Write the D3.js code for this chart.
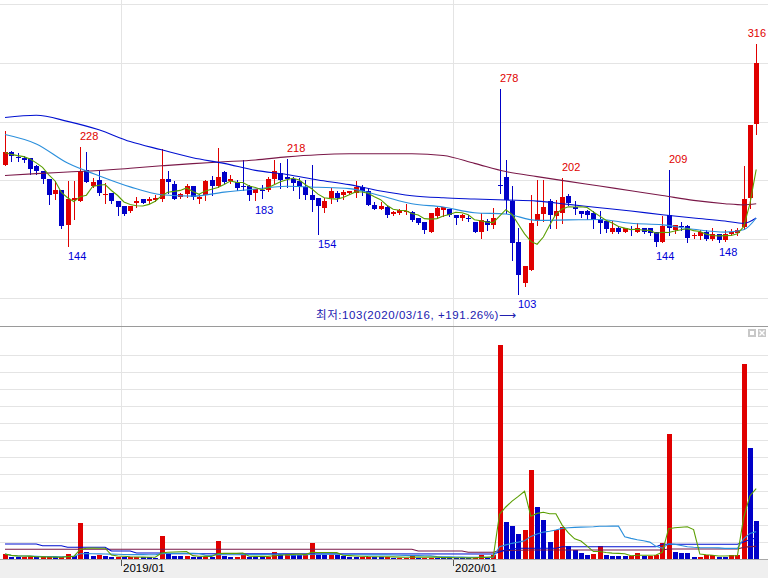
<!DOCTYPE html>
<html><head><meta charset="utf-8">
<script src="https://cdn.jsdelivr.net/npm/d3@7"></script>
<style>html,body{margin:0;padding:0;background:#fff;overflow:hidden}</style>
</head><body><svg id="c" width="768" height="578"></svg>
<script>
// ---- data (weekly candles, index 0..120) ----
const open = [213.3,224.1,219.6,219.3,219.0,211.9,208.2,201.1,188.6,191.5,
162.2,183.5,182.9,209.1,195.4,200.5,187.2,189.7,182.6,178.4,
173.6,181.2,184.3,182.1,183.0,184.0,201.4,197.1,186.3,188.3,
195.4,184.6,187.8,200.5,195.4,206.8,199.4,198.3,195.1,195.4,
189.1,192.2,192.0,201.1,206.2,203.3,201.1,199.1,194.3,187.7,
184.9,176.9,184.9,189.1,187.2,189.1,189.7,194.3,191.4,179.2,
176.1,177.8,171.3,172.1,173.5,173.5,167.8,164.7,156.5,169.8,
174.9,175.8,170.7,167.8,168.0,165.0,156.5,165.6,161.7,196.0,
202.5,182.7,148.0,113.1,123.9,165.9,171.3,182.9,169.9,172.2,
186.4,177.8,174.1,173.6,172.2,167.1,165.1,155.7,159.9,156.5,
158.8,155.7,159.9,159.4,155.7,147.2,170.7,158.0,160.9,160.8,
152.3,152.3,155.7,150.3,154.6,149.5,154.6,155.1,160.0,184.9,
248.0];
const high = [242.3,224.7,223.3,220.4,219.0,213.3,208.2,201.1,199.7,191.5,
199.7,199.7,228.0,223.8,202.0,209.1,197.7,189.7,182.6,178.4,
178.4,186.3,184.3,186.3,187.8,226.5,207.6,199.1,189.7,197.1,
195.4,188.6,200.5,203.4,227.5,207.6,204.8,200.5,217.0,196.3,
192.5,196.2,203.3,217.0,214.7,218.0,203.3,201.9,200.5,213.3,
184.9,184.9,193.4,190.6,192.0,191.2,199.1,196.2,192.5,182.0,
182.0,178.3,174.0,175.5,180.0,174.0,167.8,164.7,172.7,177.2,
177.8,175.8,170.7,171.5,170.7,165.0,172.1,167.3,176.4,278.0,
217.6,194.9,159.9,127.3,187.8,200.5,200.5,184.1,183.5,202.0,
188.3,182.1,174.1,175.0,173.6,173.6,165.1,165.1,160.8,156.5,
161.4,163.6,159.9,159.4,155.7,169.9,209.0,162.2,164.5,162.2,
155.0,158.0,158.0,159.4,154.6,157.4,158.8,159.4,211.9,247.4,
316.0];
const low = [213.3,216.7,216.2,215.3,205.7,205.7,197.7,179.8,184.1,159.9,
144.0,167.0,182.9,198.3,194.3,187.8,180.7,180.7,170.2,170.2,
173.0,177.8,180.7,180.7,182.1,182.1,189.2,184.6,184.9,186.3,
184.3,181.2,183.5,187.8,194.3,197.7,197.7,192.0,192.0,183.5,
183.0,184.9,190.6,198.2,193.4,194.8,192.0,184.9,184.0,174.1,
154.0,173.5,180.6,182.6,184.0,188.5,186.3,187.7,179.2,175.8,
175.5,169.3,170.6,171.5,171.5,165.8,162.7,155.1,156.5,168.7,
169.8,169.8,163.0,166.4,165.8,156.5,150.8,158.0,159.4,189.2,
172.7,132.4,103.0,110.2,123.9,161.7,165.6,159.4,159.4,163.6,
179.0,171.6,169.3,167.0,159.4,155.1,156.5,155.1,155.1,155.7,
153.7,155.7,155.1,153.7,144.0,147.2,153.7,155.1,158.0,148.0,
151.0,150.3,149.0,149.5,148.0,148.5,153.7,153.7,158.5,176.4,
239.5];
const close = [223.8,220.4,219.0,217.6,209.9,207.6,201.4,187.2,191.5,161.6,
184.4,185.2,207.6,198.3,198.8,189.2,188.6,182.1,177.0,171.6,
178.4,182.9,181.2,184.0,184.9,201.4,198.3,184.6,188.3,195.4,
186.3,186.3,199.1,195.4,202.8,198.8,201.4,193.4,194.8,187.8,
192.5,192.0,201.4,207.6,200.5,201.1,198.2,194.3,187.2,183.5,
178.3,182.6,191.1,184.9,190.3,190.6,194.3,190.6,179.2,175.8,
178.3,170.7,173.5,174.9,174.1,166.4,164.1,157.9,172.7,176.4,
177.2,170.7,167.8,170.4,167.6,156.5,166.4,161.7,168.2,195.5,
183.5,146.6,119.6,127.3,163.6,171.6,177.0,170.2,174.1,185.5,
181.2,175.6,171.6,170.7,166.5,163.6,158.5,159.9,155.7,159.4,
157.4,159.9,155.7,155.1,147.2,161.4,159.4,161.7,160.7,150.9,
153.7,156.0,150.3,154.6,149.5,154.6,156.5,158.0,184.4,247.4,
300.0];
const volume = [5,2.3,2.2,2.4,2.6,1.6,1.7,1.8,1.6,1.8,
5,3,36.3,7.3,3.3,4,3,2.3,2.4,1.7,
1.8,1.9,1.7,1.6,1.5,23,5.7,3,2.8,2.9,
2.5,2.3,2.5,2.3,18,3,2.3,2.4,4,2.3,
2.2,2.1,2.3,7.3,4.7,5,4,3.8,4.5,16.3,
4,3.8,4,3.8,3,2.3,2.2,2.3,2.4,2.3,
2.2,2.3,1.3,1.4,1.5,3.7,1.3,1.4,1.5,1.4,
1.3,1.2,1.1,1.0,0.9,1.3,3.7,1.3,3.7,214,
37.3,33,25,29,89,52,39,17.3,29,32.3,
13,9,6.3,4,5,13,4,3.2,3.1,3.0,
3.1,6.3,3,3.5,4,16.3,125,7.3,6.3,6.2,
2.3,2.5,4,4.1,2.3,2.2,4,4.1,195,111,
38];

// long moving averages (they need history before the window)
const maIdx  = [0,5,10,15,20,25,30,35,40,45,50,55,60,65,70,75,80,85,90,95,100,105,110,115,118,120];
const ma20   = [239,231,214.7,204,194.5,187.8,186.6,190,192.7,195,194.2,193,187,180.2,177.4,172.5,171.4,166,166.4,166.8,163.5,162.2,158.4,156,158,168];
const ma60   = [253.5,255.4,250.2,243,233,226,219.2,214.5,208.5,205,200.4,196.4,191,187,185.2,184.2,183.3,182.4,179.6,176.8,174,170.8,168,165.5,163.5,168];
const ma120  = [204.2,205.8,207.1,208.4,210.3,212.4,214.3,215.8,217.4,220,221.8,222.6,222.7,222.7,221.2,214.5,207.5,203.2,199.2,195.2,191.2,187.2,183,180.2,179.2,180.1];
const volMa60Idx = [0,5,6,9,10,16,17,20,21,25,26,78,79,80,82,88,89,104,105,117,118,119,120];
const volMa60    = [15,15,13.3,13.3,11.7,11.7,8,8,6,6,5.3,5,7,9,10.7,10.7,12.3,12.3,14.7,14.7,17,19.5,21];
const volMa120Idx = [0,65,66,73,74,78,79,84,105,106,117,118,119,120];
const volMa120    = [9.7,9.7,8,8,6.7,6.7,8.4,9,9,10,10,11.6,12.4,12.6];

const monthTickIdx = [19,72];
const monthTickLabels = ["2019/01","2020/01"];
const priceGrid = [100,150,200,250,300,350];
const volGrid = [17,34,51,68,85,102,119,136,153,170,187,204];
const highLabelIdx = [12,45,79,89,106,120];
const lowLabelIdx  = [10,40,50,82,104,114];
const lowDate = "2020/03/16";

// ---- helpers ----
function movingAvg(arr, n){
  return arr.map((_,i)=>{const s=Math.max(0,i-n+1);return d3.mean(arr.slice(s,i+1));});
}
const N = close.length;
const ma5 = movingAvg(close,5);
const vma5 = movingAvg(volume,5);
const vma20 = movingAvg(volume,20);

const RED="#e00000", BLUE="#0000c8";
const C_GREEN="#5a9e00", C_LBLUE="#2a8fdc", C_BLUE="#0010d0", C_MAROON="#7a1848";

const svg = d3.select("#c");
svg.append("rect").attr("width",768).attr("height",578).attr("fill","#fff");

const x = d3.scaleLinear().domain([0,N-1]).range([5,756.2]);
const cx = i => Math.round(x(i));
const yP = d3.scaleLinear().domain([100,350]).range([298,4]);
const yV = d3.scaleLinear().domain([0,232]).range([559,327]);

const grid = svg.append("g").attr("shape-rendering","crispEdges").attr("stroke","#e4e4e4").attr("stroke-width",1);
priceGrid.forEach(v=>grid.append("line").attr("x1",0).attr("x2",768).attr("y1",Math.round(yP(v))+0.5).attr("y2",Math.round(yP(v))+0.5));
volGrid.forEach(v=>grid.append("line").attr("x1",0).attr("x2",768).attr("y1",Math.round(yV(v))+0.5).attr("y2",Math.round(yV(v))+0.5));
monthTickIdx.forEach(i=>{const gx=Math.round(x(i-0.5))+0.5;grid.append("line").attr("x1",gx).attr("x2",gx).attr("y1",0).attr("y2",559);});

// ---- candles ----
const cg = svg.append("g").attr("shape-rendering","crispEdges");
d3.range(N).forEach(i=>{
  const col = close[i]>=open[i]?RED:BLUE;
  const c = cx(i);
  cg.append("line").attr("x1",c+0.5).attr("x2",c+0.5).attr("y1",Math.round(yP(high[i]))).attr("y2",Math.round(yP(low[i]))+1).attr("stroke",col);
  const t = Math.round(yP(Math.max(open[i],close[i])));
  const b = Math.round(yP(Math.min(open[i],close[i])));
  cg.append("rect").attr("x",c-2).attr("width",5).attr("y",t).attr("height",Math.max(1,b-t)).attr("fill",col);
});

// ---- price moving averages ----
const lineIdx = (idx,vals,ys,curve)=>d3.line().x((d,k)=>x(idx[k])).y(d=>ys(d)).curve(curve||d3.curveLinear)(vals);
const lg = svg.append("g").attr("fill","none").attr("stroke-width",1.1);
lg.append("path").attr("d",lineIdx(maIdx,ma120,yP,d3.curveMonotoneX)).attr("stroke",C_MAROON);
lg.append("path").attr("d",lineIdx(maIdx,ma60,yP,d3.curveMonotoneX)).attr("stroke",C_BLUE);
lg.append("path").attr("d",lineIdx(maIdx,ma20,yP,d3.curveMonotoneX)).attr("stroke",C_LBLUE);
lg.append("path").attr("d",lineIdx(d3.range(N),ma5,yP)).attr("stroke",C_GREEN);

// ---- volume bars (red when volume rises vs previous week) ----
const vg = svg.append("g").attr("shape-rendering","crispEdges");
d3.range(N).forEach(i=>{
  const col = (i===0 || volume[i]>=volume[i-1])?RED:BLUE;
  const t = Math.round(yV(volume[i]));
  vg.append("rect").attr("x",cx(i)-2).attr("width",5).attr("y",t).attr("height",Math.max(1,559-t)).attr("fill",col);
});
const vl = svg.append("g").attr("fill","none").attr("stroke-width",1.1);
vl.append("path").attr("d",lineIdx(volMa120Idx,volMa120,yV)).attr("stroke",C_MAROON);
vl.append("path").attr("d",lineIdx(volMa60Idx,volMa60,yV)).attr("stroke",C_BLUE);
vl.append("path").attr("d",lineIdx(d3.range(N),vma20,yV)).attr("stroke",C_LBLUE);
vl.append("path").attr("d",lineIdx(d3.range(N),vma5,yV)).attr("stroke",C_GREEN);

// ---- panel frame ----
svg.append("line").attr("x1",0).attr("x2",768).attr("y1",326.5).attr("y2",326.5).attr("stroke","#9a9a9a").attr("shape-rendering","crispEdges");
svg.append("rect").attr("x",0).attr("y",560).attr("width",768).attr("height",18).attr("fill","#efefef");
svg.append("line").attr("x1",0).attr("x2",768).attr("y1",559.5).attr("y2",559.5).attr("stroke","#a8a8a8").attr("shape-rendering","crispEdges");

// icons
const ic = svg.append("g").attr("shape-rendering","crispEdges");
ic.append("rect").attr("x",748).attr("y",329).attr("width",8).attr("height",8).attr("fill","#c8c8c8");
ic.append("rect").attr("x",750).attr("y",331).attr("width",4).attr("height",4).attr("fill","#fff");
ic.append("rect").attr("x",758).attr("y",329).attr("width",8).attr("height",8).attr("fill","#c8c8c8");
ic.append("path").attr("d","M759.5,330.5L764.5,335.5M764.5,330.5L759.5,335.5").attr("stroke","#fff").attr("stroke-width",1.3).attr("shape-rendering","auto");

// ---- x axis ----
const xAxis = d3.axisBottom(x).tickValues(monthTickIdx.map(i=>i-0.5))
  .tickFormat((d,k)=>monthTickLabels[k]).tickSize(6).tickSizeOuter(0);
const ax = svg.append("g").attr("transform","translate(0,560)").call(xAxis);
ax.select(".domain").remove();
ax.selectAll(".tick line").attr("stroke","#555").attr("shape-rendering","crispEdges")
  .attr("transform",function(){return "translate(0.5,0)";});
ax.selectAll(".tick").attr("transform",function(d){return "translate("+Math.round(x(d))+",0)";});
ax.selectAll(".tick text").attr("text-anchor","start").attr("x",2).attr("y",4.3)
  .attr("font-family","Liberation Sans, Arial, sans-serif").attr("font-size","11.5px").attr("fill","#000");

// ---- high / low labels ----
const lab = svg.append("g").attr("font-family","Liberation Sans, Arial, sans-serif").attr("font-size","11px");
function place(t, i){
  const w = t.node().getComputedTextLength();
  t.attr("x", Math.min(cx(i), 766-w));
}
highLabelIdx.forEach(i=>{
  const t = lab.append("text").attr("y",Math.round(yP(high[i]))-7).attr("fill",RED).text(Math.round(high[i]));
  place(t,i);
});
lowLabelIdx.forEach(i=>{
  const t = lab.append("text").attr("y",Math.round(yP(low[i]))+14).attr("fill","#0000d8").text(Math.round(low[i]));
  place(t,i);
});

// ---- lowest-price annotation ----
const minI = d3.minIndex(low);
const pct = ((close[N-1]/low[minI]-1)*100).toFixed(2);
svg.append("text").attr("x",cx(minI)-202).attr("y",319)
  .attr("font-family","Liberation Sans, 'Noto Sans CJK KR', sans-serif").attr("font-size","11.5px")
  .attr("fill","#2020b0").attr("textLength",200).attr("lengthAdjust","spacing")
  .text("최저:"+Math.round(low[minI])+"("+lowDate+", +"+pct+"%)⟶");
</script></body></html>
